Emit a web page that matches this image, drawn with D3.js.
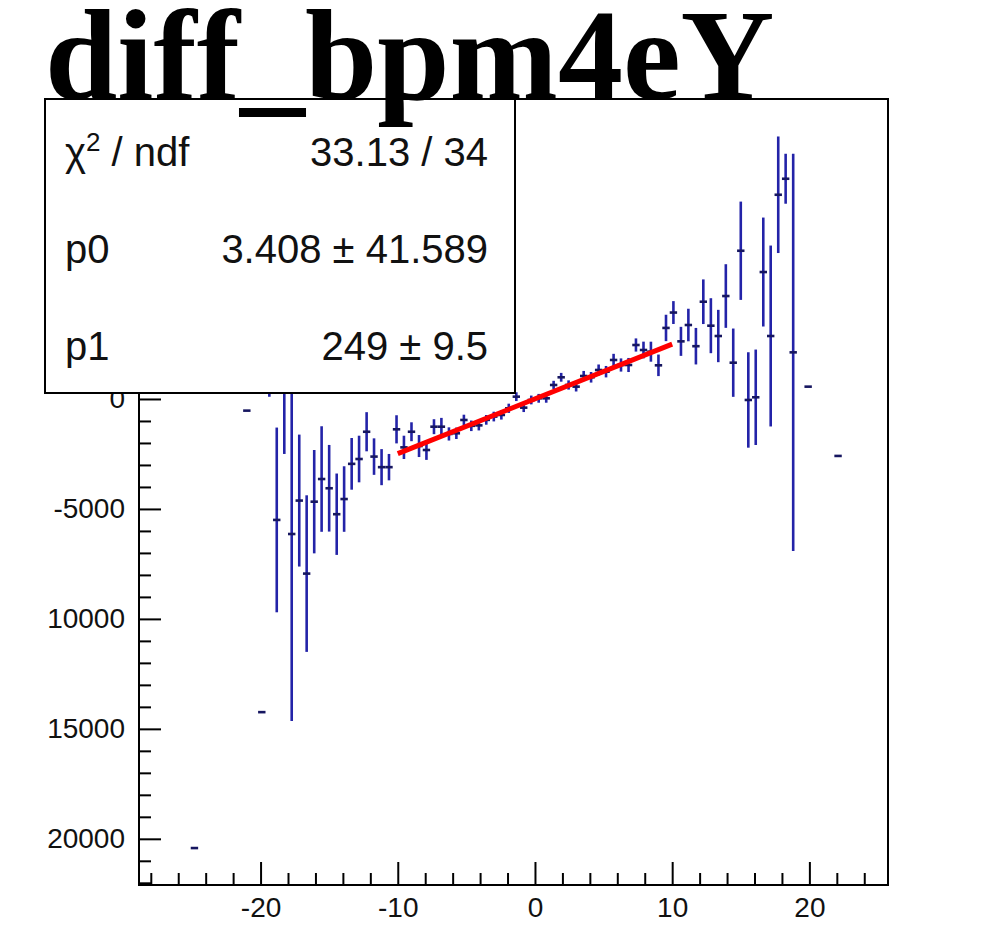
<!DOCTYPE html>
<html><head><meta charset="utf-8">
<script src="https://cdn.jsdelivr.net/npm/d3@7"></script>
<style>body{margin:0;background:#fff}</style>
</head><body>
<svg id="c" width="993" height="941" xmlns="http://www.w3.org/2000/svg"></svg>
<script>
// ---- data ----
const binCenters = [-24.82,-21.00,-19.91,-19.36,-18.82,-18.27,-17.73,-17.18,-16.64,-16.09,-15.55,-15.00,-14.45,-13.91,
  -13.36,-12.82,-12.27,-11.73,-11.18,-10.64,-10.09,-9.55,-9.00,-8.45,-7.91,-7.36,-6.82,-6.27,-5.73,-5.18,-4.64,-4.09,
  -3.55,-3.00,-2.45,-1.91,-1.36,-0.82,-0.27,0.27,0.82,1.36,1.91,2.45,3.00,3.55,4.09,4.64,5.18,5.73,6.27,6.82,7.36,
  7.91,8.45,9.00,9.55,10.09,10.64,11.18,11.73,12.27,12.82,13.36,13.91,14.45,15.00,15.55,16.09,16.64,17.18,17.73,
  18.27,18.82,19.91,22.09];
const binValues = [-20420,-530,-14240,1500,-5500,1000,-6140,-4620,-7940,-4670,-3640,-4060,-5240,-4550,
  -2950,-2730,-1490,-2620,-3100,-3100,-1380,-2200,-1490,-2140,-2320,-1260,-1260,-1590,-1560,-955,-1220,-1200,
  -950,-800,-727,-424,105,-395,-45,30,30,636,986,636,560,1045,986,1318,1241,1773,1545,1545,2454,
  2227,2150,1530,3230,3930,2620,3363,2400,4422,3332,2863,4681,1650,6740,-45,77,5772,2863,9286,
  10014,2120,560,-2590];
const binErrors = [0,0,0,1400,4200,3500,8500,3000,3560,2350,2400,1970,1850,1490,
  1175,1060,890,830,820,600,640,530,430,500,450,340,400,300,260,240,240,230,
  220,220,210,210,200,200,200,200,200,190,200,210,220,230,240,250,260,280,300,320,300,
  380,455,490,600,520,660,740,830,1015,1250,1190,1447,1553,2235,2170,2170,2477,4113,2650,
  1136,9030,0,0];
const binHalfWidth = 0.27;

const xTickValues = [-20, -10, 0, 10, 20];
const xTickLabels = ["-20", "-10", "0", "10", "20"];
const yTickValues = [0, -5000, -10000, -15000, -20000];
const yTickLabels = ["0", "-5000", "10000", "15000", "20000"];

const fitRange = [-10, 10];
const fitParams = [3.408, 249];

const statsNames = ["p0", "p1"];
const statsValues = ["33.13 / 34", "3.408 \u00b1 41.589", "249 \u00b1 9.5"];
const titleText = "diff_bpm4eY";

// ---- layout ----
const W = 993, H = 941;
const frame = {l: 139, r: 888, t: 99, b: 885};
const svg = d3.select("#c");
svg.append("rect").attr("width", W).attr("height", H).attr("fill", "#fff");

const x = d3.scaleLinear().domain([-28.86, 25.73]).range([frame.l, frame.r]);
const y = d3.scaleLinear().domain([-22100, 13640]).range([frame.b, frame.t]);

const pts = binCenters.map((c, i) => ({x: c, y: binValues[i], e: binErrors[i]}));

svg.append("defs").append("clipPath").attr("id", "clip")
  .append("rect").attr("x", frame.l).attr("y", frame.t)
  .attr("width", frame.r - frame.l).attr("height", frame.b - frame.t);

const gData = svg.append("g").attr("clip-path", "url(#clip)");
gData.selectAll("line.v").data(pts.filter(d => d.e > 0)).join("line")
  .attr("class", "v")
  .attr("x1", d => x(d.x)).attr("x2", d => x(d.x))
  .attr("y1", d => y(d.y - d.e)).attr("y2", d => y(d.y + d.e))
  .attr("stroke", "#2323a8").attr("stroke-width", 2.6);
gData.selectAll("line.h").data(pts).join("line")
  .attr("class", "h")
  .attr("x1", d => x(d.x - binHalfWidth)).attr("x2", d => x(d.x + binHalfWidth))
  .attr("y1", d => y(d.y)).attr("y2", d => y(d.y))
  .attr("stroke", "#161660").attr("stroke-width", 2.6);

// fit line
const fitFn = v => fitParams[0] + fitParams[1] * v;
gData.append("line")
  .attr("x1", x(fitRange[0])).attr("y1", y(fitFn(fitRange[0])))
  .attr("x2", x(fitRange[1])).attr("y2", y(fitFn(fitRange[1])))
  .attr("stroke", "#ff0000").attr("stroke-width", 5);

// frame
svg.append("rect").attr("x", frame.l).attr("y", frame.t)
  .attr("width", frame.r - frame.l).attr("height", frame.b - frame.t)
  .attr("fill", "none").attr("stroke", "#000").attr("stroke-width", 2);

const font = "'Liberation Sans', Arial, Helvetica, sans-serif";

// y axis
const yMinor = d3.range(-22000, 14000, 1000).filter(v => v % 5000 !== 0);
const yMajorAll = d3.range(-20000, 14000, 5000);
svg.append("g").attr("transform", `translate(${frame.l},0)`)
  .call(d3.axisLeft(y).tickValues(yMinor).tickSize(-12).tickFormat(""))
  .call(g => g.select(".domain").remove())
  .call(g => g.selectAll("line").attr("stroke", "#000").attr("stroke-width", 2));
svg.append("g").attr("transform", `translate(${frame.l},0)`)
  .call(d3.axisLeft(y).tickValues(yMajorAll).tickSize(-22).tickPadding(14)
    .tickFormat(v => { const i = yTickValues.indexOf(v); return i >= 0 ? yTickLabels[i] : ""; }))
  .call(g => g.select(".domain").remove())
  .call(g => g.selectAll("line").attr("stroke", "#000").attr("stroke-width", 2))
  .call(g => g.selectAll("text").attr("font-family", font).attr("font-size", 28).attr("fill", "#111"))
  .call(g => g.selectAll(".tick").filter(function(){ return d3.select(this).select("text").text() === ""; }).select("text").remove());

// x axis
const xMinor = d3.range(-28, 26, 2).filter(v => v % 10 !== 0);
svg.append("g").attr("transform", `translate(0,${frame.b})`)
  .call(d3.axisBottom(x).tickValues(xMinor).tickSize(-12).tickFormat(""))
  .call(g => g.select(".domain").remove())
  .call(g => g.selectAll("line").attr("stroke", "#000").attr("stroke-width", 2));
svg.append("g").attr("transform", `translate(0,${frame.b})`)
  .call(d3.axisBottom(x).tickValues(xTickValues).tickSize(-23).tickPadding(12)
    .tickFormat((v, i) => xTickLabels[i]))
  .call(g => g.select(".domain").remove())
  .call(g => g.selectAll("line").attr("stroke", "#000").attr("stroke-width", 2))
  .call(g => g.selectAll("text").attr("font-family", font).attr("font-size", 28).attr("fill", "#111"));

// stats box
const box = {l: 45, r: 515, t: 99, b: 393};
svg.append("rect").attr("x", box.l).attr("y", box.t)
  .attr("width", box.r - box.l).attr("height", box.b - box.t)
  .attr("fill", "#fff").attr("stroke", "#000").attr("stroke-width", 2);
const rowBase = [166, 263, 360];
const chi = svg.append("text").attr("x", 65).attr("y", rowBase[0])
  .attr("font-family", font).attr("font-size", 40).attr("fill", "#111");
chi.append("tspan").text("\u03c7");
chi.append("tspan").attr("font-size", 26).attr("dy", -15).text("2");
chi.append("tspan").attr("dy", 15).text(" / ndf");
statsNames.forEach((n, i) => {
  svg.append("text").attr("x", 65).attr("y", rowBase[i + 1])
    .attr("font-family", font).attr("font-size", 40).attr("fill", "#111").text(n);
});
statsValues.forEach((v, i) => {
  svg.append("text").attr("x", 488).attr("y", rowBase[i]).attr("text-anchor", "end")
    .attr("font-family", font).attr("font-size", 40).attr("fill", "#111").text(v);
});

// title
svg.append("text").attr("x", 45).attr("y", 99)
  .attr("font-family", "'Liberation Serif', 'Times New Roman', serif")
  .attr("font-weight", "bold").attr("font-size", 130).attr("fill", "#000")
  .text(titleText);
</script>
</body></html>
